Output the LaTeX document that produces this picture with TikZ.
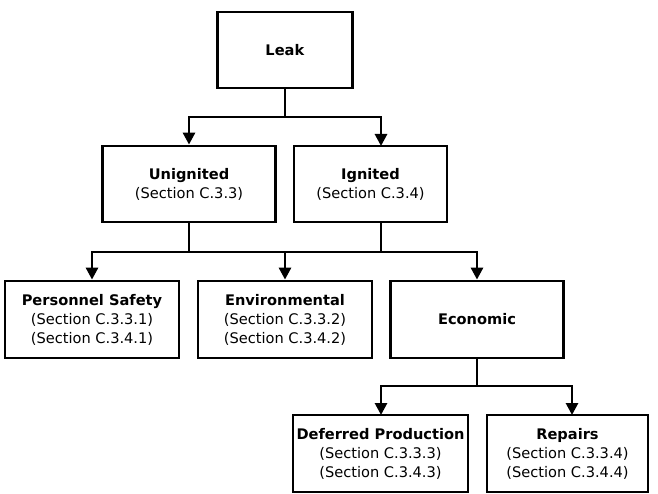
\documentclass[tikz,border=0pt]{standalone}
\usepackage{fontspec}
\setmainfont{DejaVu Sans}
\usetikzlibrary{arrows.meta}
\begin{document}
\begin{tikzpicture}[x=1pt,y=-1pt,
  box/.style={draw,line width=2.8pt,align=center,inner sep=0pt,
    font=\fontsize{14.6}{19}\selectfont},
  link/.style={line width=2.8pt},
  arr/.style={link,-{Triangle[width=12pt,length=12pt]}}]
\useasboundingbox (0,0) rectangle (658,494);
% tier 1
\node[box,minimum width=135pt,minimum height=76pt] (leak) at (285,50) {\textbf{Leak}};
% tier 2
\node[box,minimum width=173pt,minimum height=76pt] (unig) at (189,184) {\textbf{Unignited}\\(Section C.3.3)};
\node[box,minimum width=153pt,minimum height=76pt] (ign) at (370.5,184) {\textbf{Ignited}\\(Section C.3.4)};
% tier 3
\node[box,minimum width=174pt,minimum height=77pt] (pers) at (92,319.5) {\textbf{Personnel Safety}\\(Section C.3.3.1)\\(Section C.3.4.1)};
\node[box,minimum width=174pt,minimum height=77pt] (env) at (285,319.5) {\textbf{Environmental}\\(Section C.3.3.2)\\(Section C.3.4.2)};
\node[box,minimum width=173pt,minimum height=77pt] (econ) at (477,319.5) {\textbf{Economic}};
% tier 4
\node[box,minimum width=175pt,minimum height=77pt] (defer) at (380.5,453.5) {\textbf{Deferred Production}\\(Section C.3.3.3)\\(Section C.3.4.3)};
\node[box,minimum width=161pt,minimum height=77pt] (rep) at (567.5,453.5) {\textbf{Repairs}\\(Section C.3.3.4)\\(Section C.3.4.4)};
% junctions and arrow ends
\coordinate (j1) at (285,117);
\coordinate (ignin) at (381,146);
\coordinate (j2) at (189,252);
\coordinate (j3) at (477,386);
\coordinate (defin) at (381,415);
\coordinate (repin) at (572,415);
% connectors
\draw[link] (leak.south) -- (j1);
\draw[arr] (j1) -| (unig.north);
\draw[arr] (j1) -| (ignin);
\draw[link] (unig.south) -- (j2);
\draw[link] (ign.south -| ignin) -- (ignin |- j2);
\draw[arr] (j2) -| (pers.north);
\draw[arr] (j2) -| (env.north);
\draw[arr] (j2) -| (econ.north);
\draw[link] (econ.south) -- (j3);
\draw[arr] (j3) -| (defin);
\draw[arr] (j3) -| (repin);
\end{tikzpicture}
\end{document}
